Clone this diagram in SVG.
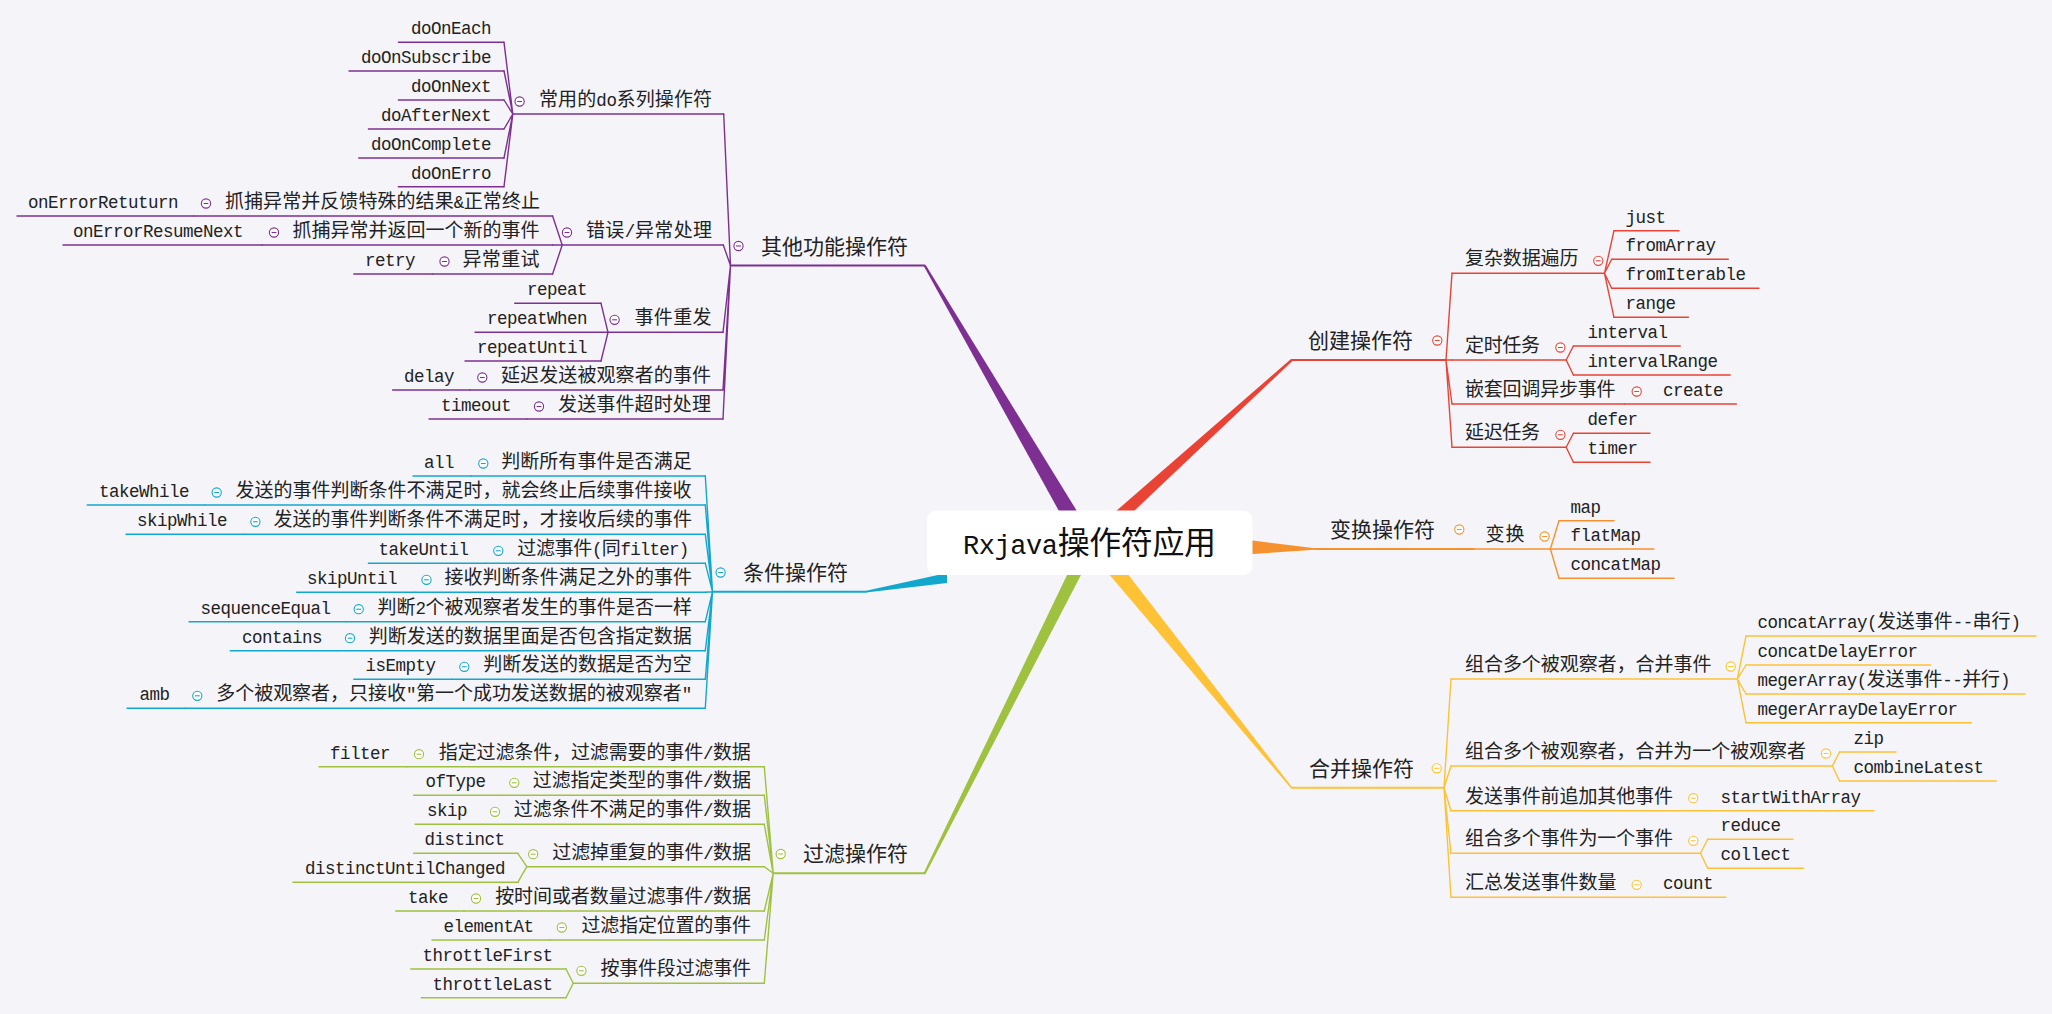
<svg xmlns="http://www.w3.org/2000/svg" xmlns:xlink="http://www.w3.org/1999/xlink" width="2052" height="1014" viewBox="0 0 2052 1014">
<style>
.t{font-family:"Noto Sans CJK SC","Noto Sans",sans-serif;font-size:19px;fill:#222}
.t1{font-size:21px}
.m{font-family:"Liberation Mono","DejaVu Sans Mono",monospace;font-size:17.5px;letter-spacing:-0.5px;fill:#222}
.e{text-anchor:end}
.ln{fill:none;stroke-width:1.4;stroke-linecap:round}
.L1{stroke-width:2}
.P{stroke:#7d3091}.R{stroke:#e94335}.O{stroke:#f5922f}.C{stroke:#12a8cd}.G{stroke:#9fc140}.Y{stroke:#fdc235}
.fP{fill:#7d3091}.fR{fill:#e94335}.fO{fill:#f5922f}.fC{fill:#12a8cd}.fG{fill:#9fc140}.fY{fill:#fdc235}
.ct{font-family:"Noto Sans CJK SC",sans-serif;font-size:32px;fill:#111}
.cm{font-family:"Liberation Mono",monospace;font-size:27px}
</style>
<defs>
<g id="ic"><circle r="4.6" fill="#fff" stroke-width="1.1"/><line x1="-2.4" y1="0" x2="2.4" y2="0" stroke-width="1.1"/></g>
</defs>
<rect width="2052" height="1014" fill="#f4f4f9"/>

<g id="connectors">
<polygon class="fP" points="923.5,265.5 926,265.5 1077.5,512 1059.5,512"/>
<polygon class="fR" points="1290.7,359.3 1292.7,360.7 1133,512 1115,512"/>
<polygon class="fO" points="1245,539.5 1315,548.3 1315,549.7 1245,554.5"/>
<polygon class="fC" points="866,590.8 947,573 947,583 866,592.6"/>
<polygon class="fG" points="1068,573 1082,573 926,873.3 923.5,873.3"/>
<polygon class="fY" points="1108,573 1127,573 1292.5,787.7 1290.5,787.7"/>
<path class="ln P" d="M723.7,114L730.5,265.5M723.3,245L730.5,265.5M723,332.3L730.5,265.5M723,390L730.5,265.5M723,419L730.5,265.5
M504,42.3L512.8,114M504,71L512.8,114M504,100L512.8,114M504,129L512.8,114M504,158L512.8,114M504,186.7L512.8,114
M552.6,216L562.2,245M552.6,245L562.2,245M552.6,274L562.2,245M601,303.3L608,332.3M601,361L608,332.3"/>
<path class="ln C" d="M705.3,476L712.5,591.7M705.3,505L712.5,591.7M705.3,534.3L712.5,591.7M705.3,563.3L712.5,591.7M705.3,592.3L712.5,591.7M705.3,621.7L712.5,591.7M705.3,650.7L712.5,591.7M705.3,679.3L712.5,591.7M705.3,708.3L712.5,591.7"/>
<path class="ln G" d="M764.3,766.7L773.2,873.3M764.3,795.3L773.2,873.3M764.3,824.3L773.2,873.3M764.3,866.7L773.2,873.3M764.3,911L773.2,873.3M764.3,940L773.2,873.3M764.3,983.3L773.2,873.3
M517.8,853.3L526.8,866.7M517.8,882.3L526.8,866.7M566,969L573.2,983.3M566,997.7L573.2,983.3"/>
<path class="ln R" d="M1446,360L1452,273.3M1446,360L1452,360M1446,360L1452,404M1446,360L1452,447.3
M1604.5,273.3L1614,230.7M1604.5,273.3L1611.7,259.3M1604.5,273.3L1611.7,288.3M1604.5,273.3L1614,317.3
M1566.2,360L1573.4,346M1566.2,360L1573.4,375M1566.2,447.3L1573.4,433.3M1566.2,447.3L1573.4,462.3"/>
<path class="ln O" d="M1550.4,549L1559,520.7M1550.4,549L1559,578.3"/>
<path class="ln Y" d="M1444,787.7L1451,679M1444,787.7L1451,766M1444,787.7L1451,810.7M1444,787.7L1451,853.3M1444,787.7L1451,897.3
M1737.4,679L1746,636M1737.4,679L1746,665M1737.4,679L1746,694M1737.4,679L1746,722.7
M1832.4,766L1839.5,752M1832.4,766L1839.5,781M1700.5,853.3L1707.7,839.3M1700.5,853.3L1707.7,868.3"/>
</g>

<g id="root">
<rect x="927" y="510.5" width="325.5" height="64.5" rx="9" fill="#fff"/>
<text class="ct" x="963" y="554" textLength="253"><tspan class="cm">Rxjava</tspan>操作符应用</text>
</g>

<!-- purple -->
<g id="n-other"><line class="ln L1 P" x1="730.5" y1="265.5" x2="924.6" y2="265.5"/><use href="#ic" x="738.5" y="246" class="P"/><text class="t t1" x="761" y="253.5" textLength="147">其他功能操作符</text></g>
<g id="n-do"><line class="ln P" x1="512.8" y1="114" x2="723.7" y2="114"/><use href="#ic" x="519.6" y="101.5" class="P"/><text class="t" x="539" y="106" textLength="173">常用的<tspan class="m">do</tspan>系列操作符</text></g>
<g id="n-doOnEach"><line class="ln P" x1="398.4" y1="42.3" x2="504" y2="42.3"/><text class="m e" x="491" y="34.3">doOnEach</text></g>
<g id="n-doOnSubscribe"><line class="ln P" x1="349" y1="71" x2="504" y2="71"/><text class="m e" x="491" y="63">doOnSubscribe</text></g>
<g id="n-doOnNext"><line class="ln P" x1="398.4" y1="100" x2="504" y2="100"/><text class="m e" x="491" y="92">doOnNext</text></g>
<g id="n-doAfterNext"><line class="ln P" x1="368.4" y1="129" x2="504" y2="129"/><text class="m e" x="491" y="121">doAfterNext</text></g>
<g id="n-doOnComplete"><line class="ln P" x1="358.7" y1="158" x2="504" y2="158"/><text class="m e" x="491" y="150">doOnComplete</text></g>
<g id="n-doOnErro"><line class="ln P" x1="398.4" y1="186.7" x2="504" y2="186.7"/><text class="m e" x="491" y="178.7">doOnErro</text></g>
<g id="n-error"><line class="ln P" x1="562.2" y1="245" x2="723.3" y2="245"/><use href="#ic" x="567" y="232.5" class="P"/><text class="t" x="586" y="237" textLength="126">错误<tspan class="m">/</tspan>异常处理</text></g>
<g id="n-err1"><line class="ln P" x1="194" y1="216" x2="552.6" y2="216"/><use href="#ic" x="206" y="203.5" class="P"/><text class="t" x="225" y="208" textLength="315">抓捕异常并反馈特殊的结果<tspan class="m">&amp;</tspan>正常终止</text></g>
<g id="n-onErrorRetuturn"><line class="ln P" x1="17" y1="216" x2="194" y2="216"/><text class="m e" x="178" y="208">onErrorRetuturn</text></g>
<g id="n-err2"><line class="ln P" x1="262" y1="245" x2="552.6" y2="245"/><use href="#ic" x="274" y="232.5" class="P"/><text class="t" x="292.5" y="237" textLength="247">抓捕异常并返回一个新的事件</text></g>
<g id="n-onErrorResumeNext"><line class="ln P" x1="63" y1="245" x2="262" y2="245"/><text class="m e" x="243" y="237">onErrorResumeNext</text></g>
<g id="n-err3"><line class="ln P" x1="432.5" y1="274" x2="552.6" y2="274"/><use href="#ic" x="444.5" y="261.5" class="P"/><text class="t" x="462.5" y="266" textLength="77">异常重试</text></g>
<g id="n-retry"><line class="ln P" x1="353.8" y1="274" x2="432.5" y2="274"/><text class="m e" x="415" y="266">retry</text></g>
<g id="n-repeatGroup"><line class="ln P" x1="608" y1="332.3" x2="723" y2="332.3"/><use href="#ic" x="614.6" y="319.8" class="P"/><text class="t" x="634.5" y="324.3" textLength="77">事件重发</text></g>
<g id="n-repeat"><line class="ln P" x1="514.7" y1="303.3" x2="601" y2="303.3"/><text class="m e" x="587" y="295.3">repeat</text></g>
<g id="n-repeatWhen"><line class="ln P" x1="475" y1="332.3" x2="608" y2="332.3"/><text class="m e" x="587" y="324.3">repeatWhen</text></g>
<g id="n-repeatUntil"><line class="ln P" x1="465" y1="361" x2="601" y2="361"/><text class="m e" x="587" y="353">repeatUntil</text></g>
<g id="n-delayD"><line class="ln P" x1="470" y1="390" x2="723" y2="390"/><use href="#ic" x="482.3" y="377.5" class="P"/><text class="t" x="501" y="382" textLength="210">延迟发送被观察者的事件</text></g>
<g id="n-delay"><line class="ln P" x1="392.6" y1="390" x2="470" y2="390"/><text class="m e" x="454" y="382">delay</text></g>
<g id="n-timeoutD"><line class="ln P" x1="527" y1="419" x2="723" y2="419"/><use href="#ic" x="539" y="406.5" class="P"/><text class="t" x="558" y="411" textLength="153">发送事件超时处理</text></g>
<g id="n-timeout"><line class="ln P" x1="429" y1="419" x2="527" y2="419"/><text class="m e" x="511" y="411">timeout</text></g>

<!-- cyan -->
<g id="n-cond"><line class="ln L1 C" x1="712.5" y1="591.7" x2="866" y2="591.7"/><use href="#ic" x="720.6" y="572.5" class="C"/><text class="t t1" x="743" y="579.5" textLength="105">条件操作符</text></g>
<g id="n-allD"><line class="ln C" x1="471" y1="476" x2="705.3" y2="476"/><use href="#ic" x="483.3" y="463.5" class="C"/><text class="t" x="501.2" y="468" textLength="190.5">判断所有事件是否满足</text></g>
<g id="n-all"><line class="ln C" x1="413" y1="476" x2="471" y2="476"/><text class="m e" x="454" y="468">all</text></g>
<g id="n-takeWhileD"><line class="ln C" x1="204.5" y1="505" x2="705.3" y2="505"/><use href="#ic" x="216.7" y="492.5" class="C"/><text class="t" x="235.5" y="497" textLength="456">发送的事件判断条件不满足时，就会终止后续事件接收</text></g>
<g id="n-takeWhile"><line class="ln C" x1="87.2" y1="505" x2="204.5" y2="505"/><text class="m e" x="189" y="497">takeWhile</text></g>
<g id="n-skipWhileD"><line class="ln C" x1="243.5" y1="534.3" x2="705.3" y2="534.3"/><use href="#ic" x="255.4" y="521.8" class="C"/><text class="t" x="273.4" y="526.3" textLength="418.5">发送的事件判断条件不满足时，才接收后续的事件</text></g>
<g id="n-skipWhile"><line class="ln C" x1="126" y1="534.3" x2="243.5" y2="534.3"/><text class="m e" x="227" y="526.3">skipWhile</text></g>
<g id="n-takeUntilD"><line class="ln C" x1="486" y1="563.3" x2="705.3" y2="563.3"/><use href="#ic" x="498.3" y="550.8" class="C"/><text class="t" x="517.2" y="555.3" textLength="171.5">过滤事件<tspan class="m">(</tspan>同<tspan class="m">filter)</tspan></text></g>
<g id="n-takeUntil"><line class="ln C" x1="368.4" y1="563.3" x2="486" y2="563.3"/><text class="m e" x="468.5" y="555.3">takeUntil</text></g>
<g id="n-skipUntilD"><line class="ln C" x1="414.5" y1="592.3" x2="705.3" y2="592.3"/><use href="#ic" x="426.5" y="579.8" class="C"/><text class="t" x="444.5" y="584.3" textLength="247.5">接收判断条件满足之外的事件</text></g>
<g id="n-skipUntil"><line class="ln C" x1="296.6" y1="592.3" x2="414.5" y2="592.3"/><text class="m e" x="397" y="584.3">skipUntil</text></g>
<g id="n-seqD"><line class="ln C" x1="346.5" y1="621.7" x2="705.3" y2="621.7"/><use href="#ic" x="358.7" y="609.2" class="C"/><text class="t" x="377.5" y="613.7" textLength="314.5">判断<tspan class="m">2</tspan>个被观察者发生的事件是否一样</text></g>
<g id="n-sequenceEqual"><line class="ln C" x1="189" y1="621.7" x2="346.5" y2="621.7"/><text class="m e" x="330.5" y="613.7">sequenceEqual</text></g>
<g id="n-containsD"><line class="ln C" x1="338" y1="650.7" x2="705.3" y2="650.7"/><use href="#ic" x="350" y="638.2" class="C"/><text class="t" x="368.8" y="642.7" textLength="323">判断发送的数据里面是否包含指定数据</text></g>
<g id="n-contains"><line class="ln C" x1="230.2" y1="650.7" x2="338" y2="650.7"/><text class="m e" x="322" y="642.7">contains</text></g>
<g id="n-isEmptyD"><line class="ln C" x1="452" y1="679.3" x2="705.3" y2="679.3"/><use href="#ic" x="464.3" y="666.8" class="C"/><text class="t" x="483.2" y="671.3" textLength="208.5">判断发送的数据是否为空</text></g>
<g id="n-isEmpty"><line class="ln C" x1="353.8" y1="679.3" x2="452" y2="679.3"/><text class="m e" x="435.5" y="671.3">isEmpty</text></g>
<g id="n-ambD"><line class="ln C" x1="185" y1="708.3" x2="705.3" y2="708.3"/><use href="#ic" x="197.3" y="695.8" class="C"/><text class="t" x="216.2" y="700.3" textLength="475.5">多个被观察者，只接收<tspan class="m">"</tspan>第一个成功发送数据的被观察者<tspan class="m">"</tspan></text></g>
<g id="n-amb"><line class="ln C" x1="127" y1="708.3" x2="185" y2="708.3"/><text class="m e" x="169.5" y="700.3">amb</text></g>

<!-- green -->
<g id="n-filterOps"><line class="ln L1 G" x1="773.2" y1="873.3" x2="925" y2="873.3"/><use href="#ic" x="780.7" y="854" class="G"/><text class="t t1" x="803" y="861.3" textLength="105">过滤操作符</text></g>
<g id="n-filterD"><line class="ln G" x1="407" y1="766.7" x2="764.3" y2="766.7"/><use href="#ic" x="419" y="754.2" class="G"/><text class="t" x="438.8" y="758.7" textLength="312">指定过滤条件，过滤需要的事件<tspan class="m">/</tspan>数据</text></g>
<g id="n-filter"><line class="ln G" x1="319" y1="766.7" x2="407" y2="766.7"/><text class="m e" x="390" y="758.7">filter</text></g>
<g id="n-ofTypeD"><line class="ln G" x1="502" y1="795.3" x2="764.3" y2="795.3"/><use href="#ic" x="514.3" y="782.8" class="G"/><text class="t" x="532.7" y="787.3" textLength="218.3">过滤指定类型的事件<tspan class="m">/</tspan>数据</text></g>
<g id="n-ofType"><line class="ln G" x1="413.6" y1="795.3" x2="502" y2="795.3"/><text class="m e" x="485.5" y="787.3">ofType</text></g>
<g id="n-skipD"><line class="ln G" x1="483" y1="824.3" x2="764.3" y2="824.3"/><use href="#ic" x="495" y="811.8" class="G"/><text class="t" x="513.8" y="816.3" textLength="237.2">过滤条件不满足的事件<tspan class="m">/</tspan>数据</text></g>
<g id="n-skip"><line class="ln G" x1="415" y1="824.3" x2="483" y2="824.3"/><text class="m e" x="467" y="816.3">skip</text></g>
<g id="n-distinctD"><line class="ln G" x1="526.8" y1="866.7" x2="764.3" y2="866.7"/><use href="#ic" x="533.2" y="854.2" class="G"/><text class="t" x="552.3" y="858.7" textLength="198.7">过滤掉重复的事件<tspan class="m">/</tspan>数据</text></g>
<g id="n-distinct"><line class="ln G" x1="413.6" y1="853.3" x2="517.8" y2="853.3"/><text class="m e" x="504.5" y="845.3">distinct</text></g>
<g id="n-distinctUntilChanged"><line class="ln G" x1="292.9" y1="882.3" x2="517.8" y2="882.3"/><text class="m e" x="505" y="874.3">distinctUntilChanged</text></g>
<g id="n-takeD"><line class="ln G" x1="464" y1="911" x2="764.3" y2="911"/><use href="#ic" x="476" y="898.5" class="G"/><text class="t" x="495.2" y="903" textLength="255.8">按时间或者数量过滤事件<tspan class="m">/</tspan>数据</text></g>
<g id="n-take"><line class="ln G" x1="395.7" y1="911" x2="464" y2="911"/><text class="m e" x="448" y="903">take</text></g>
<g id="n-elementAtD"><line class="ln G" x1="549.8" y1="940" x2="764.3" y2="940"/><use href="#ic" x="561.8" y="927.5" class="G"/><text class="t" x="581.5" y="932" textLength="169.5">过滤指定位置的事件</text></g>
<g id="n-elementAt"><line class="ln G" x1="432" y1="940" x2="549.8" y2="940"/><text class="m e" x="533.5" y="932">elementAt</text></g>
<g id="n-throttleD"><line class="ln G" x1="573.2" y1="983.3" x2="764.3" y2="983.3"/><use href="#ic" x="581.4" y="970.8" class="G"/><text class="t" x="600.5" y="975.3" textLength="150.5">按事件段过滤事件</text></g>
<g id="n-throttleFirst"><line class="ln G" x1="410.7" y1="969" x2="566" y2="969"/><text class="m e" x="552.5" y="961">throttleFirst</text></g>
<g id="n-throttleLast"><line class="ln G" x1="421.4" y1="997.7" x2="566" y2="997.7"/><text class="m e" x="552.5" y="989.7">throttleLast</text></g>

<!-- red -->
<g id="n-create"><line class="ln L1 R" x1="1291.7" y1="360" x2="1446" y2="360"/><use href="#ic" x="1437.3" y="340.5" class="R"/><text class="t t1" x="1308" y="348" textLength="105">创建操作符</text></g>
<g id="n-complex"><line class="ln R" x1="1452" y1="273.3" x2="1604.5" y2="273.3"/><use href="#ic" x="1598.3" y="260.8" class="R"/><text class="t" x="1465" y="265.3" textLength="113.5">复杂数据遍历</text></g>
<g id="n-just"><line class="ln R" x1="1614" y1="230.7" x2="1679" y2="230.7"/><text class="m" x="1625.5" y="222.7">just</text></g>
<g id="n-fromArray"><line class="ln R" x1="1611.7" y1="259.3" x2="1728.3" y2="259.3"/><text class="m" x="1625.5" y="251.3">fromArray</text></g>
<g id="n-fromIterable"><line class="ln R" x1="1611.7" y1="288.3" x2="1759" y2="288.3"/><text class="m" x="1625.5" y="280.3">fromIterable</text></g>
<g id="n-range"><line class="ln R" x1="1614" y1="317.3" x2="1688.5" y2="317.3"/><text class="m" x="1625.5" y="309.3">range</text></g>
<g id="n-timed"><line class="ln R" x1="1452" y1="360" x2="1566.2" y2="360"/><use href="#ic" x="1560.4" y="347.5" class="R"/><text class="t" x="1465" y="352" textLength="75">定时任务</text></g>
<g id="n-interval"><line class="ln R" x1="1573.4" y1="346" x2="1680.3" y2="346"/><text class="m" x="1587.5" y="338">interval</text></g>
<g id="n-intervalRange"><line class="ln R" x1="1573.4" y1="375" x2="1730.2" y2="375"/><text class="m" x="1587.5" y="367">intervalRange</text></g>
<g id="n-nested"><line class="ln R" x1="1452" y1="404" x2="1624.5" y2="404"/><use href="#ic" x="1636.7" y="391.5" class="R"/><text class="t" x="1465" y="396" textLength="150.5">嵌套回调异步事件</text></g>
<g id="n-createOp"><line class="ln R" x1="1624.5" y1="404" x2="1736.4" y2="404"/><text class="m" x="1663" y="396">create</text></g>
<g id="n-delayed"><line class="ln R" x1="1452" y1="447.3" x2="1566.2" y2="447.3"/><use href="#ic" x="1560.4" y="434.8" class="R"/><text class="t" x="1465" y="439.3" textLength="75">延迟任务</text></g>
<g id="n-defer"><line class="ln R" x1="1573.4" y1="433.3" x2="1650" y2="433.3"/><text class="m" x="1587.5" y="425.3">defer</text></g>
<g id="n-timer"><line class="ln R" x1="1573.4" y1="462.3" x2="1650" y2="462.3"/><text class="m" x="1587.5" y="454.3">timer</text></g>

<!-- orange -->
<g id="n-transformOps"><line class="ln L1 O" x1="1315" y1="549" x2="1473.6" y2="549"/><use href="#ic" x="1459.3" y="529.5" class="O"/><text class="t t1" x="1330" y="537" textLength="105">变换操作符</text></g>
<g id="n-transform"><line class="ln O" x1="1473.6" y1="549" x2="1550.4" y2="549"/><use href="#ic" x="1544.6" y="536.5" class="O"/><text class="t" x="1485.5" y="541" textLength="39">变换</text></g>
<g id="n-map"><line class="ln O" x1="1559" y1="520.7" x2="1614" y2="520.7"/><text class="m" x="1570.5" y="512.7">map</text></g>
<g id="n-flatMap"><line class="ln O" x1="1550.4" y1="549" x2="1654" y2="549"/><text class="m" x="1570.5" y="541">flatMap</text></g>
<g id="n-concatMap"><line class="ln O" x1="1559" y1="578.3" x2="1674" y2="578.3"/><text class="m" x="1570.5" y="570.3">concatMap</text></g>

<!-- yellow -->
<g id="n-mergeOps"><line class="ln L1 Y" x1="1291.7" y1="787.7" x2="1444" y2="787.7"/><use href="#ic" x="1436.7" y="768.3" class="Y"/><text class="t t1" x="1309" y="775.7" textLength="105">合并操作符</text></g>
<g id="n-combineEvents"><line class="ln Y" x1="1451" y1="679" x2="1737.4" y2="679"/><use href="#ic" x="1730.7" y="666.5" class="Y"/><text class="t" x="1465" y="671" textLength="246.5">组合多个被观察者，合并事件</text></g>
<g id="n-concatArray"><line class="ln Y" x1="1746" y1="636" x2="2036" y2="636"/><text class="t" x="1757.5" y="628" textLength="263"><tspan class="m">concatArray(</tspan>发送事件<tspan class="m">--</tspan>串行<tspan class="m">)</tspan></text></g>
<g id="n-concatDelayError"><line class="ln Y" x1="1746" y1="665" x2="1930.7" y2="665"/><text class="m" x="1757.5" y="657">concatDelayError</text></g>
<g id="n-megerArray"><line class="ln Y" x1="1746" y1="694" x2="2025" y2="694"/><text class="t" x="1757.5" y="686" textLength="252.5"><tspan class="m">megerArray(</tspan>发送事件<tspan class="m">--</tspan>并行<tspan class="m">)</tspan></text></g>
<g id="n-megerArrayDelayError"><line class="ln Y" x1="1746" y1="722.7" x2="1971.4" y2="722.7"/><text class="m" x="1757.5" y="714.7">megerArrayDelayError</text></g>
<g id="n-combineOne"><line class="ln Y" x1="1451" y1="766" x2="1832.4" y2="766"/><use href="#ic" x="1826" y="753.5" class="Y"/><text class="t" x="1465" y="758" textLength="341">组合多个被观察者，合并为一个被观察者</text></g>
<g id="n-zip"><line class="ln Y" x1="1839.5" y1="752" x2="1896" y2="752"/><text class="m" x="1853.5" y="744">zip</text></g>
<g id="n-combineLatest"><line class="ln Y" x1="1839.5" y1="781" x2="1996.4" y2="781"/><text class="m" x="1853.5" y="773">combineLatest</text></g>
<g id="n-prepend"><line class="ln Y" x1="1451" y1="810.7" x2="1705" y2="810.7"/><use href="#ic" x="1693.3" y="798.2" class="Y"/><text class="t" x="1465" y="802.7" textLength="208">发送事件前追加其他事件</text></g>
<g id="n-startWithArray"><line class="ln Y" x1="1705" y1="810.7" x2="1874" y2="810.7"/><text class="m" x="1720.5" y="802.7">startWithArray</text></g>
<g id="n-aggregate"><line class="ln Y" x1="1451" y1="853.3" x2="1700.5" y2="853.3"/><use href="#ic" x="1693.3" y="840.8" class="Y"/><text class="t" x="1465" y="845.3" textLength="208">组合多个事件为一个事件</text></g>
<g id="n-reduce"><line class="ln Y" x1="1707.7" y1="839.3" x2="1793" y2="839.3"/><text class="m" x="1720.5" y="831.3">reduce</text></g>
<g id="n-collect"><line class="ln Y" x1="1707.7" y1="868.3" x2="1803.6" y2="868.3"/><text class="m" x="1720.5" y="860.3">collect</text></g>
<g id="n-countD"><line class="ln Y" x1="1451" y1="897.3" x2="1648.5" y2="897.3"/><use href="#ic" x="1636.7" y="884.8" class="Y"/><text class="t" x="1465" y="889.3" textLength="151.5">汇总发送事件数量</text></g>
<g id="n-count"><line class="ln Y" x1="1648.5" y1="897.3" x2="1726" y2="897.3"/><text class="m" x="1663" y="889.3">count</text></g>
</svg>
